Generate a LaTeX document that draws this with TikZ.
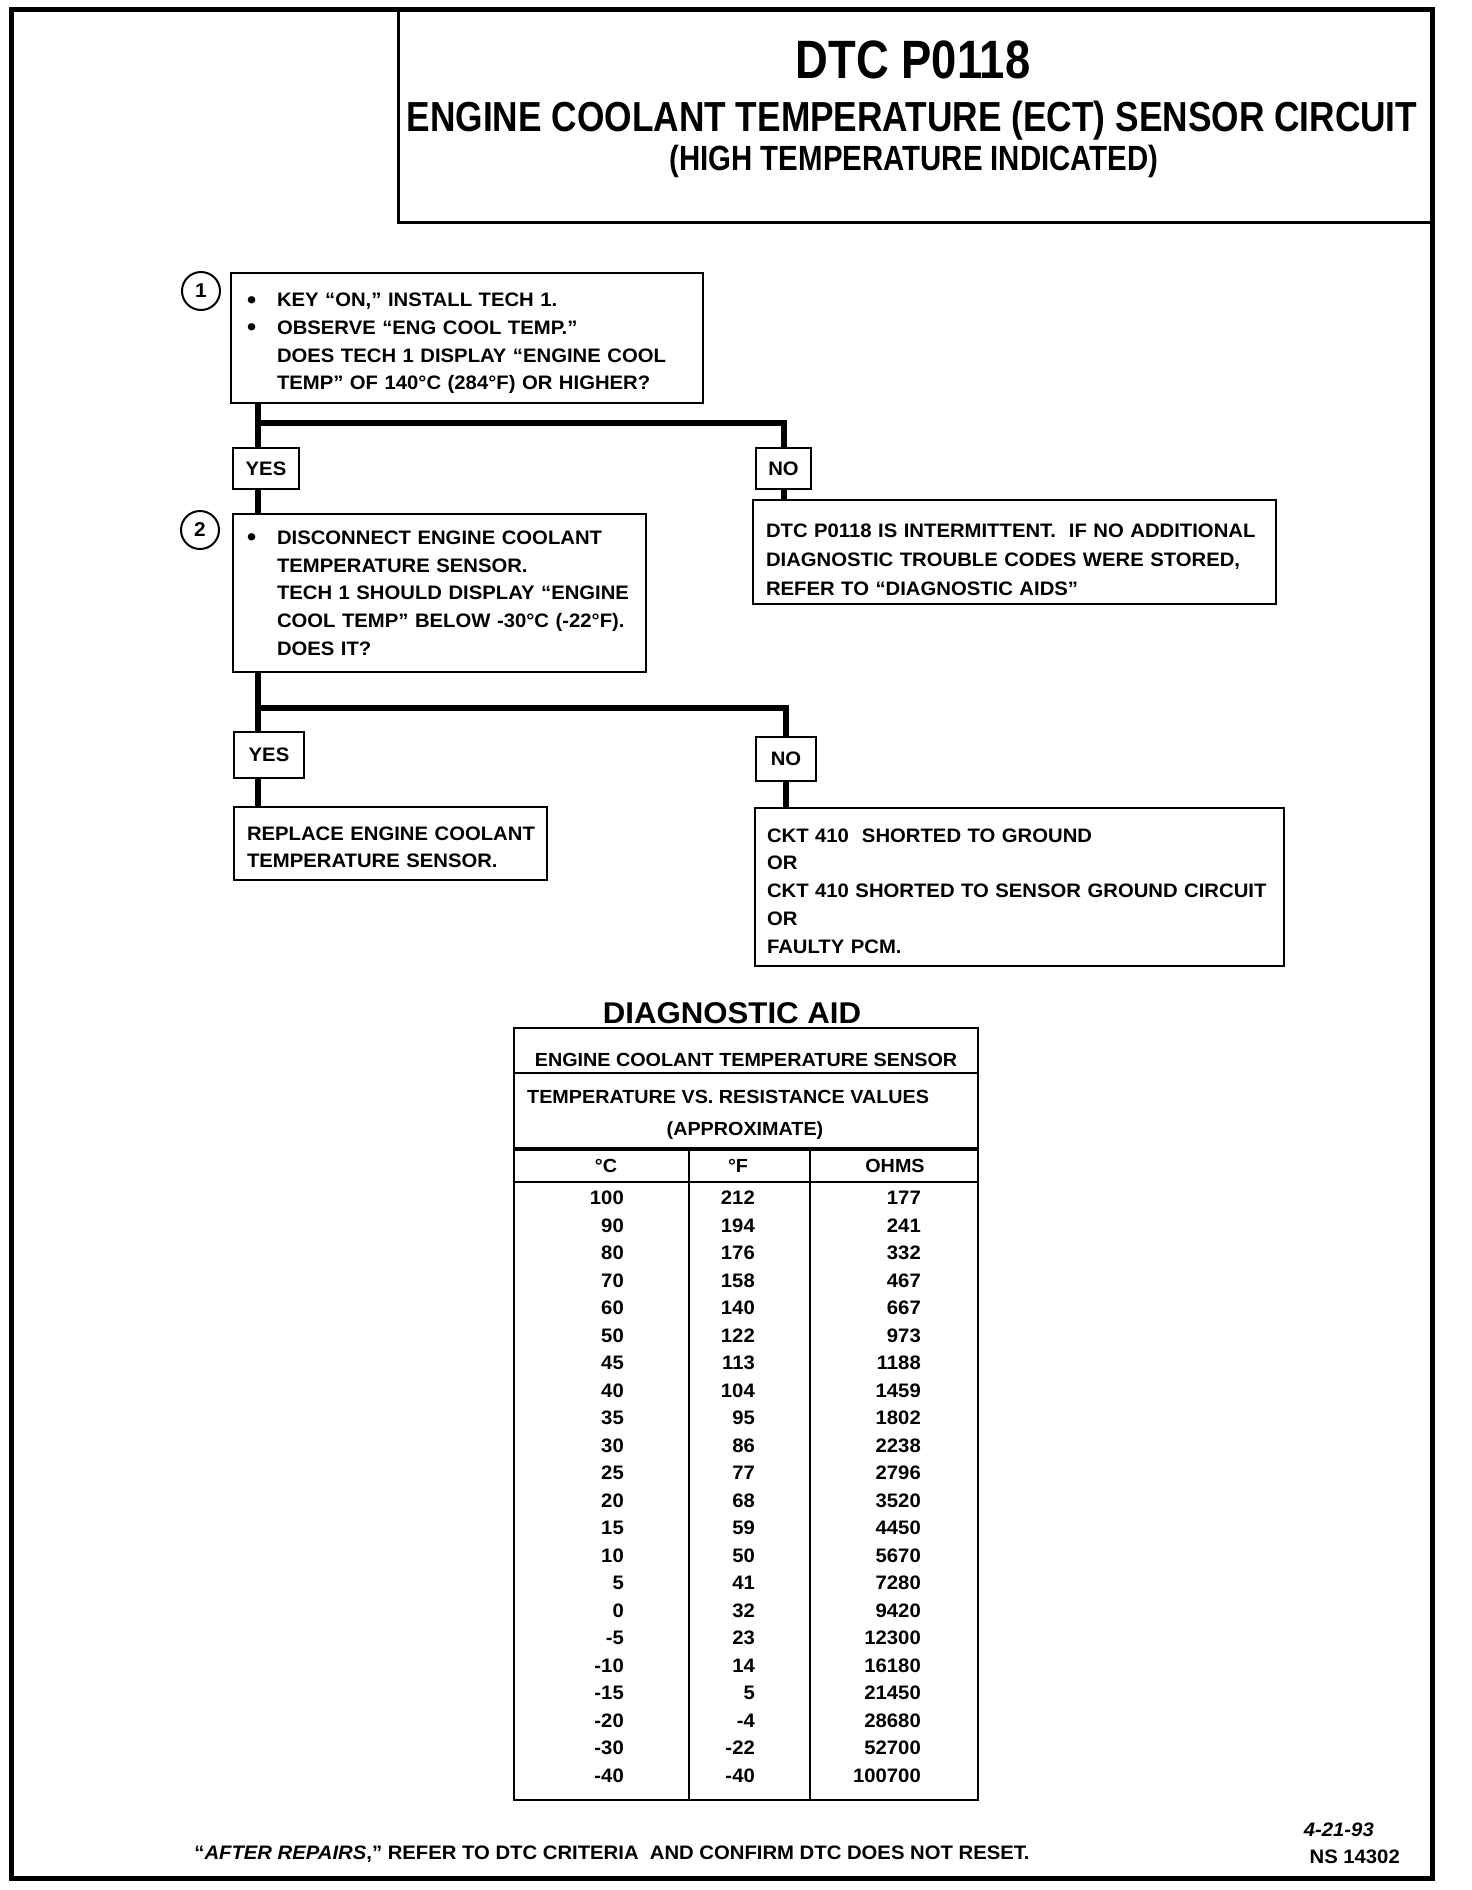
\documentclass[tikz,border=0pt]{standalone}
\usepackage{fontspec}
\setmainfont{Liberation Sans}[FakeStretch=1.04]
\newfontfamily\titlefont{Liberation Sans}[FakeStretch=0.84]
\newcommand{\bul}{\makebox[30pt][l]{\raisebox{-1.5pt}{\fontsize{25}{25}\selectfont\textbullet}}}
\begin{document}
\begin{tikzpicture}[x=1pt,y=-1pt,
  frame/.style={line width=5pt},
  stepbox/.style={draw, line width=2.5pt, rectangle, inner ysep=0pt, align=left,
    font=\fontsize{19.5}{27.7}\selectfont\bfseries},
  lbl/.style={draw, line width=2.5pt, rectangle, inner sep=0pt,
    font=\fontsize{19.5}{22}\selectfont\bfseries},
  flow/.style={line width=6pt},
  num/.style={circle, draw, line width=2pt, minimum size=38pt, inner sep=0pt,
    font=\fontsize{20}{22}\selectfont\bfseries},
  tbl/.style={line width=2.5pt},
  tcell/.style={inner sep=0pt, font=\fontsize{19.5}{22}\selectfont\bfseries},
  ttext/.style={inner sep=0pt, font=\fontsize{19}{22}\selectfont\bfseries},
  foot/.style={inner sep=0pt, font=\fontsize{19.5}{22}\selectfont\bfseries}]
\useasboundingbox (0,0) rectangle (1472,1890);
% outer frame and title block
\draw[frame] (11,9) rectangle (1432,1878);
\draw[line width=3pt] (398,9) rectangle (1432,222);
\node[inner sep=0pt, font=\titlefont\fontsize{54}{58}\selectfont\bfseries] (t1) at (913,60) {DTC P0118};
\node[inner sep=0pt, font=\titlefont\fontsize{42}{46}\selectfont\bfseries] (t2) at (912,121) {ENGINE COOLANT TEMPERATURE (ECT) SENSOR CIRCUIT};
\node[inner sep=0pt, font=\titlefont\fontsize{35}{38}\selectfont\bfseries] (t3) at (914,161) {(HIGH TEMPERATURE INDICATED)};
% step 1
\node[num] (c1) at (201,291) {1};
\node[stepbox, inner xsep=16pt, text width=440pt, minimum height=130pt] (box1) at (467,338)
 {\rule{0pt}{24.5pt}\bul KEY ``ON,'' INSTALL TECH 1.\\
  \bul OBSERVE ``ENG COOL TEMP.''\\
  \hspace*{30pt}DOES TECH 1 DISPLAY ``ENGINE COOL\\
  \hspace*{30pt}TEMP'' OF 140°C (284°F) OR HIGHER?};
\node[lbl, minimum width=66pt, minimum height=41pt] (yes1) at (266,468.5) {YES};
\node[lbl, minimum width=55pt, minimum height=41pt] (no1) at (783.5,468.5) {NO};
\node[stepbox, inner xsep=13pt, text width=497pt, minimum height=104pt,
  font=\fontsize{19.5}{29}\selectfont\bfseries] (res1) at (1014.5,552)
 {\rule{0pt}{30pt}DTC P0118 IS INTERMITTENT.\ \ IF NO ADDITIONAL\\
  DIAGNOSTIC TROUBLE CODES WERE STORED,\\
  REFER TO ``DIAGNOSTIC AIDS''};
% step 2
\node[num] (c2) at (200,530) {2};
\node[stepbox, inner xsep=14pt, text width=385pt, minimum height=158pt] (box2) at (439.5,593)
 {\bul DISCONNECT ENGINE COOLANT\\
  \hspace*{30pt}TEMPERATURE SENSOR.\\
  \hspace*{30pt}TECH 1 SHOULD DISPLAY ``ENGINE\\
  \hspace*{30pt}COOL TEMP'' BELOW -30°C (-22°F).\\
  \hspace*{30pt}DOES IT?};
\node[lbl, minimum width=70pt, minimum height=46pt] (yes2) at (269,755) {YES};
\node[lbl, minimum width=60pt, minimum height=44pt] (no2) at (786,759) {NO};
\node[stepbox, inner xsep=13pt, text width=287pt, minimum height=73pt] (res2) at (390.5,843.5)
 {\rule{0pt}{21pt}\mbox{REPLACE ENGINE COOLANT}\\ \mbox{TEMPERATURE SENSOR.}};
\node[stepbox, inner xsep=12pt, text width=505pt, minimum height=158pt] (res3) at (1019.5,887)
 {\rule{0pt}{21.5pt}CKT 410\ \ SHORTED TO GROUND\\ OR\\ CKT 410 SHORTED TO SENSOR GROUND CIRCUIT\\ OR\\ FAULTY PCM.};
% connectors
\coordinate (j1) at (258,423);
\coordinate (j2) at (258,708);
\draw[flow] (box1.south -| j1) -- (j1) -| (no1.north);
\draw[flow] (j1) -- (yes1.north -| j1);
\draw[flow] (yes1.south -| j1) -- (box2.north -| j1);
\draw[flow] (no1.south) -- (res1.north -| no1.south);
\draw[flow] (box2.south -| j2) -- (j2) -| (no2.north);
\draw[flow] (j2) -- (yes2.north -| j2);
\draw[flow] (yes2.south -| j2) -- (res2.north -| j2);
\draw[flow] (no2.south) -- (res3.north -| no2.south);
% diagnostic aid table
\node[inner sep=0pt, font=\fontsize{30}{33}\selectfont\bfseries] (aid) at (732,1013) {DIAGNOSTIC AID};
\draw[tbl] (514,1028) rectangle (978,1800);
\draw[tbl] (514,1073) -- (978,1073);
\draw[line width=4pt] (514,1149) -- (978,1149);
\draw[tbl] (514,1182) -- (978,1182);
\draw[tbl] (689,1149) -- (689,1800);
\draw[tbl] (810,1149) -- (810,1800);
\node[ttext] (h1) at (746,1060) {ENGINE COOLANT TEMPERATURE SENSOR};
\node[ttext, anchor=west] (h2) at (527,1097) {TEMPERATURE VS. RESISTANCE VALUES};
\node[ttext] (h3) at (745,1131) {(APPROXIMATE)};
\node[ttext] (hc) at (606,1166) {°C};
\node[ttext] (hf) at (738,1166) {°F};
\node[ttext] (ho) at (895,1166) {OHMS};
\foreach \c/\f/\o [count=\i from 0] in {100/212/177, 90/194/241, 80/176/332, 70/158/467,
  60/140/667, 50/122/973, 45/113/1188, 40/104/1459, 35/95/1802, 30/86/2238, 25/77/2796,
  20/68/3520, 15/59/4450, 10/50/5670, 5/41/7280, 0/32/9420, -5/23/12300, -10/14/16180,
  -15/5/21450, -20/-4/28680, -30/-22/52700, -40/-40/100700} {
  \node[tcell, anchor=east] (rc\i) at (624,1198+27.5*\i) {\c};
  \node[tcell, anchor=east] (rf\i) at (755,1198+27.5*\i) {\f};
  \node[tcell, anchor=east] (ro\i) at (921,1198+27.5*\i) {\o};
}
% footer
\node[foot] (ft) at (612,1854) {``\textit{AFTER REPAIRS},'' REFER TO DTC CRITERIA\ \ AND CONFIRM DTC DOES NOT RESET.};
\node[foot, anchor=east] (date) at (1374,1830) {\textit{4-21-93}};
\node[foot, anchor=east] (ns) at (1400,1857) {NS 14302};
\end{tikzpicture}
\end{document}
